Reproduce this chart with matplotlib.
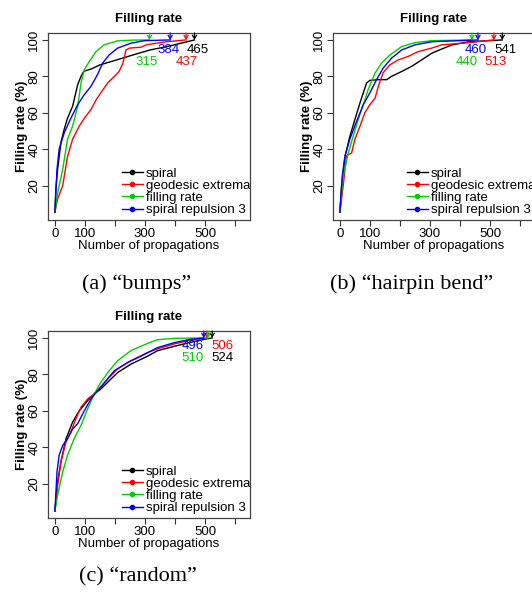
import matplotlib
matplotlib.use('Agg')
import matplotlib.pyplot as plt
from matplotlib.lines import Line2D

plt.rcParams['font.family'] = ['Liberation Sans', 'DejaVu Sans']

methods = ['spiral', 'geodesic extrema', 'filling rate', 'spiral repulsion 3']
colors = ['black', '#ff0000', '#00cd00', '#0000ff']

# (a) "bumps"
bumps_spiral_x = [0, 3, 9, 20, 31, 42, 59, 76, 87, 96, 100, 120, 150, 205, 261, 317, 372, 428, 465]
bumps_spiral_y = [5.5, 18, 29, 43.6, 51, 57, 63.6, 75.5, 80, 82.7, 83, 84, 86.3, 89, 91.8, 94.5, 96.3, 98.5, 100]
bumps_geo_x = [0, 9, 26, 42, 59, 81, 98, 120, 137, 153, 176, 198, 214, 226, 237, 248, 287, 306, 372, 437]
bumps_geo_y = [5.5, 12.7, 20, 36, 45.5, 52.7, 57, 61.8, 67, 71, 76.4, 80, 82.7, 87, 94.5, 95.5, 96, 97.4, 99, 100]
bumps_fill_x = [0, 9, 26, 42, 59, 76, 87, 98, 114, 137, 164, 209, 260, 315]
bumps_fill_y = [5.5, 16, 29, 45.5, 52.7, 63.6, 76.4, 83.6, 88, 93.6, 97.3, 99.5, 99.9, 100]
bumps_rep_x = [0, 7, 14, 31, 53, 76, 98, 120, 142, 159, 181, 209, 253, 298, 384]
bumps_rep_y = [5.5, 29, 40, 49, 57, 64.5, 70, 74.5, 81, 87.3, 91.8, 95.5, 98.2, 99.6, 100]

# (b) "hairpin bend"
hairpin_spiral_x = [0, 5.5, 17, 33, 50, 67, 78, 89, 100, 128, 156, 172, 206, 239, 272, 306, 339, 374, 430, 541]
hairpin_spiral_y = [5.5, 20, 36, 47, 56.4, 65.5, 71, 76.4, 77.8, 78.2, 78.2, 80, 82.7, 85.5, 89, 92.7, 95, 97.3, 99, 100]
hairpin_geo_x = [0, 11, 22, 39, 50, 67, 83, 100, 117, 128, 144, 167, 194, 228, 261, 306, 339, 430, 513]
hairpin_geo_y = [5.5, 20, 36.4, 38, 45.5, 52.7, 60, 64.5, 68, 74.5, 82, 86.4, 89, 91, 93.6, 95.5, 97.3, 98.5, 100]
hairpin_fill_x = [0, 11, 28, 44, 61, 78, 94, 117, 139, 167, 206, 250, 306, 440]
hairpin_fill_y = [5.5, 25.5, 38, 47, 56.4, 64.5, 72.7, 81.8, 87.3, 91.8, 96.4, 98.5, 99.6, 100]
hairpin_rep_x = [0, 8, 17, 33, 56, 78, 100, 122, 144, 172, 206, 250, 306, 460]
hairpin_rep_y = [5.5, 25.5, 36.4, 45.5, 55.5, 64.5, 71, 78.2, 84.5, 90, 94.5, 97.3, 99, 100]

# (c) "random"
random_spiral_x = [0, 9, 20, 37, 59, 81, 109, 131, 153, 181, 209, 253, 309, 342, 400, 450, 500, 524]
random_spiral_y = [5, 21, 32, 44.7, 53.8, 60, 65.6, 69.3, 72, 76.5, 81, 85.6, 90, 93, 95.5, 97.5, 99.3, 100]
random_geo_x = [0, 9, 20, 37, 53, 70, 87, 109, 131, 153, 181, 209, 253, 309, 342, 400, 450, 506]
random_geo_y = [5, 19, 32, 43, 48.4, 55.6, 62, 66.5, 69.3, 73, 78.4, 83, 87.5, 92, 94, 96.8, 98.6, 100]
random_fill_x = [0, 9, 26, 42, 64, 87, 109, 131, 153, 181, 209, 253, 309, 342, 400, 510]
random_fill_y = [5, 13.8, 26.5, 35.6, 44.7, 52, 61, 69.3, 75.6, 82, 87.5, 93, 97, 99, 99.8, 100]
random_rep_x = [0, 7, 14, 26, 42, 59, 76, 98, 120, 142, 170, 198, 242, 287, 342, 400, 450, 496]
random_rep_y = [5, 26.5, 35.6, 41, 44.7, 50, 53, 60, 66.5, 71, 76.5, 82, 86.5, 90, 94.7, 97.5, 99.2, 100]

# where the end counts are written (x, y) for each method
bumps_label_pos = [(477, 94.5), (440, 88), (307, 88), (377, 94.5)]
hairpin_label_pos = [(553, 94.5), (517, 88), (423, 88), (453, 94.5)]
random_label_pos = [(557, 89), (557, 95.5), (460, 89), (460, 95.5)]

panels = [
    ('(a) \u201cbumps\u201d', [48, 33],
     [(bumps_spiral_x, bumps_spiral_y), (bumps_geo_x, bumps_geo_y),
      (bumps_fill_x, bumps_fill_y), (bumps_rep_x, bumps_rep_y)],
     bumps_label_pos, (137, 284)),
    ('(b) \u201chairpin bend\u201d', [333, 33],
     [(hairpin_spiral_x, hairpin_spiral_y), (hairpin_geo_x, hairpin_geo_y),
      (hairpin_fill_x, hairpin_fill_y), (hairpin_rep_x, hairpin_rep_y)],
     hairpin_label_pos, (412, 284)),
    ('(c) \u201crandom\u201d', [48, 331],
     [(random_spiral_x, random_spiral_y), (random_geo_x, random_geo_y),
      (random_fill_x, random_fill_y), (random_rep_x, random_rep_y)],
     random_label_pos, (138, 577)),
]

W, H = 532, 592
fig = plt.figure(figsize=(W / 100, H / 100), dpi=100)

for caption, (left, top), series, label_pos, (cx, cy) in panels:
    ax = fig.add_axes([left / W, 1 - (top + 187) / H, 202 / W, 187 / H])
    for (xs, ys), c in zip(series, colors):
        ax.plot(xs, ys, color=c, lw=1.0)
    for (xs, ys), c, (lx, ly) in zip(series, colors, label_pos):
        end = xs[-1]
        ax.annotate('', xy=(end, 100), xytext=(end, 103.8),
                    arrowprops=dict(arrowstyle='->,head_length=0.25,head_width=0.15',
                                    color=c, lw=0.9, shrinkA=0, shrinkB=0),
                    annotation_clip=False)
        ax.text(lx, ly, str(end), color=c, fontsize=9.5, ha='center', va='center')
    ax.set_xlim(-23, 650)
    ax.set_ylim(1.2, 103.8)
    ax.set_xticks(range(0, 700, 100))
    ax.set_xticklabels(['0', '100', '', '300', '', '500', ''])
    ax.set_yticks([20, 40, 60, 80, 100])
    ax.set_yticklabels(['20', '40', '60', '80', '100'], rotation=90, va='center')
    ax.tick_params(direction='out', length=4, width=0.8, color='#333333',
                   labelsize=9.5, pad=1.5)
    for s in ax.spines.values():
        s.set_color('#444444')
        s.set_linewidth(0.9)
    ax.set_title('Filling rate', fontweight='bold', fontsize=9.5, pad=8)
    ax.set_ylabel('Filling rate (%)', fontweight='bold', fontsize=9.5)
    ax.yaxis.set_label_coords(-0.097, 0.5)
    ax.set_xlabel('Number of propagations', fontsize=9.5)
    ax.xaxis.set_label_coords(0.5, -0.105)
    handles = [Line2D([], [], color=c, lw=1.0, marker='o', markersize=3) for c in colors]
    ax.legend(handles, methods, loc='lower left', bbox_to_anchor=(0.366, 0.02),
              frameon=False, fontsize=9.5, handlelength=1.6, handletextpad=0.2,
              labelspacing=0.0, borderpad=0, borderaxespad=0)
    fig.text(cx / W, 1 - cy / H, caption, family='Liberation Serif', fontsize=16,
             ha='center', va='center')

fig.savefig('out.png', dpi=100)
